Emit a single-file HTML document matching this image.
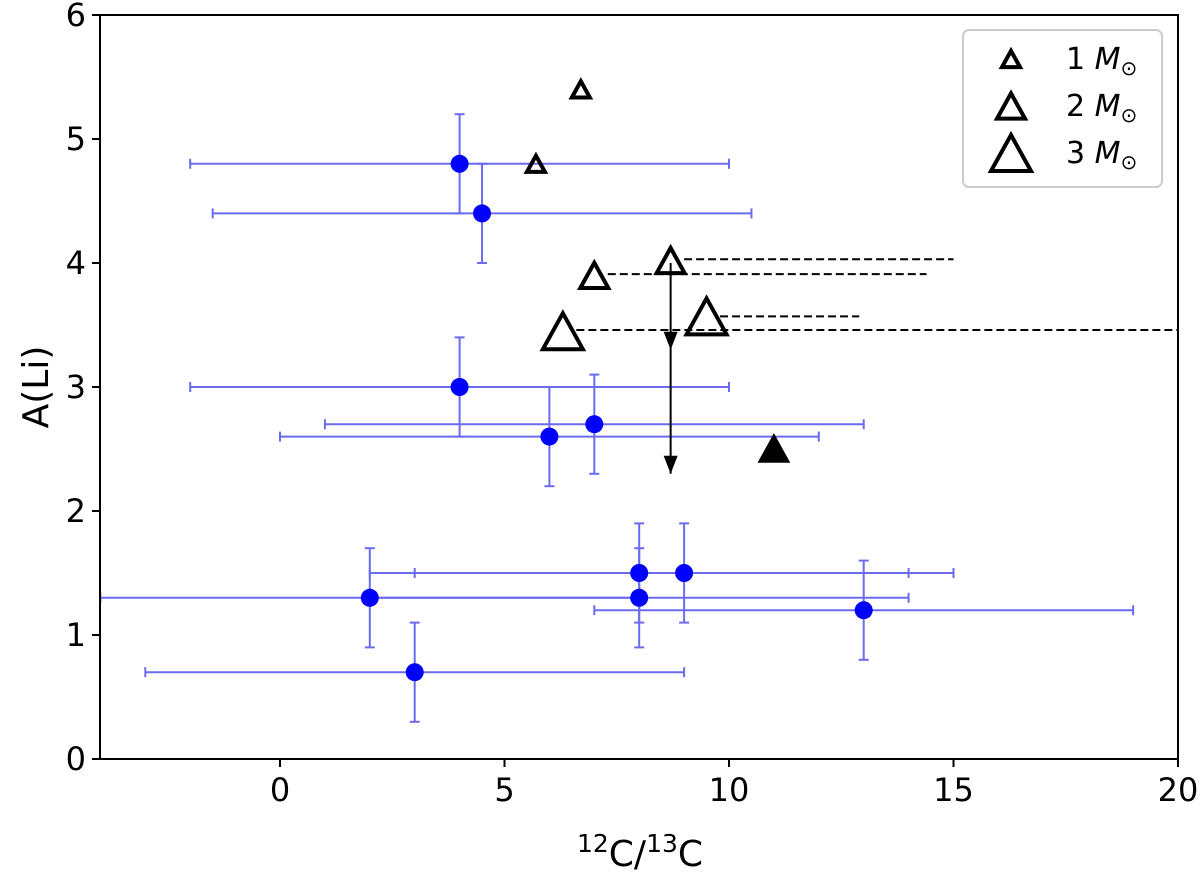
<!DOCTYPE html>
<html><head><meta charset="utf-8"><style>
body{margin:0;background:#fff}
svg text{font-family:"DejaVu Sans","Liberation Sans",sans-serif;fill:#000}
</style></head><body>
<svg id="chart" width="1200" height="874" viewBox="0 0 1200 874" xmlns="http://www.w3.org/2000/svg">
<g id="plot"></g>
</svg>
<script>
const obsX=[4,4.5,4,6,7,8,9,2,8,13,3];
const obsY=[4.8,4.4,3.0,2.6,2.7,1.5,1.5,1.3,1.3,1.2,0.7];
const obsXErr=[6,6,6,6,6,6,6,6,6,6,6];
const obsYErr=[0.4,0.4,0.4,0.4,0.4,0.4,0.4,0.4,0.4,0.4,0.4];
const modelX=[6.7,5.7,7,8.7,6.3,9.5];
const modelY=[5.4,4.8,3.9,4.02,3.45,3.57];
const modelMass=[1,1,2,2,3,3];
const dashY=[4.03,3.91,3.57,3.46];
const dashX0=[9.0,7.3,9.8,6.6];
const dashX1=[15,14.4,12.9,21];
const filledX=[11];const filledY=[2.5];
const arrowX=[8.7];const arrowTop=[4.0];const arrowMid=[3.3];const arrowBot=[2.3];
const xTicks=[0,5,10,15,20];const yTicks=[0,1,2,3,4,5,6];
const L=100,R=1178,T=15,B=759;
const X=v=>280+(v)*44.9;
const Y=v=>B-v*124;
const ns="http://www.w3.org/2000/svg";
const svg=document.getElementById('chart');
const g=document.getElementById('plot');
function mk(tag,a,parent){const e=document.createElementNS(ns,tag);for(const k in a)e.setAttribute(k,a[k]);(parent||g).appendChild(e);return e;}
const defs=mk('defs',{},svg);
const cp=mk('clipPath',{id:'cp'},defs);mk('rect',{x:L,y:T,width:R-L,height:B-T},cp);
const cg=mk('g',{'clip-path':'url(#cp)'});


obsX.forEach((x,i)=>{
 const eb=mk('g',{stroke:'#6b6bf0','stroke-width':2},cg);
 
 
 const y=Y(obsY[i]);
 const x0=X(x-obsXErr[i]),x1=X(x+obsXErr[i]);
 mk('line',{x1:x0,x2:x1,y1:y,y2:y},eb);
 mk('line',{x1:x0,x2:x0,y1:y-5,y2:y+5},eb);
 mk('line',{x1:x1,x2:x1,y1:y-5,y2:y+5},eb);
 const y0=Y(obsY[i]-obsYErr[i]),y1=Y(obsY[i]+obsYErr[i]);
 mk('line',{x1:X(x),x2:X(x),y1:y0,y2:y1},eb);
 mk('line',{x1:X(x)-5,x2:X(x)+5,y1:y0,y2:y0},eb);
 mk('line',{x1:X(x)-5,x2:X(x)+5,y1:y1,y2:y1},eb);
});
obsX.forEach((x,i)=>{
 const c=mk('circle',{cx:X(x),cy:Y(obsY[i]),r:9,fill:'#0000ff'},cg);
 
 
});
dashY.forEach((y,i)=>{
 const l=mk('line',{x1:X(dashX0[i]),x2:X(dashX1[i]),y1:Y(y),y2:Y(y),stroke:'#000','stroke-width':2,'stroke-dasharray':'8,4'},cg);
 
 
});
function tri(cx,cy,s,fill,parent){
 const h=s*0.9;
 return mk('polygon',{points:`${cx-s/2},${cy+h/2} ${cx+s/2},${cy+h/2} ${cx},${cy-h/2}`,fill:fill,stroke:'#000','stroke-width':4,'stroke-linejoin':'miter'},parent);
}
const sizes={1:18,2:28,3:40};
modelX.forEach((x,i)=>{
 const t=tri(X(x),Y(modelY[i]),sizes[modelMass[i]],'none',cg);
 
 
});
filledX.forEach((x,i)=>{
 const t=tri(X(x),Y(filledY[i]),26,'#000',cg);
 
 
});
arrowX.forEach((x,i)=>{
 const a=mk('g',{},cg);
 
 
 mk('line',{x1:X(x),x2:X(x),y1:Y(arrowTop[i]),y2:Y(arrowBot[i]),stroke:'#000','stroke-width':2},a);
 [arrowMid[i],arrowBot[i]].forEach(v=>{const yy=Y(v);mk('polygon',{points:`${X(x)-7},${yy-18} ${X(x)+7},${yy-18} ${X(x)},${yy}`,fill:'#000'},a);});
});
const fr=mk('rect',{x:L,y:T,width:R-L,height:B-T,fill:'none',stroke:'#000','stroke-width':2});


xTicks.forEach(v=>{
 mk('line',{x1:X(v),x2:X(v),y1:B,y2:B+8,stroke:'#000','stroke-width':2});
 const t=mk('text',{x:X(v),y:B+42,'text-anchor':'middle','font-size':32});t.textContent=v;
 
 
});
yTicks.forEach(v=>{
 mk('line',{x1:L-8,x2:L,y1:Y(v),y2:Y(v),stroke:'#000','stroke-width':2});
 const t=mk('text',{x:L-14,y:Y(v)+11,'text-anchor':'end','font-size':32});t.textContent=v;
 
 
});
const xt=mk('text',{x:640,y:866,'text-anchor':'middle','font-size':36});
xt.innerHTML='<tspan dy="-14" font-size="25">12</tspan><tspan dy="14">C/</tspan><tspan dy="-14" font-size="25">13</tspan><tspan dy="14">C</tspan>';


const yt=mk('text',{x:0,y:0,'text-anchor':'middle','font-size':36,transform:'translate(48,387) rotate(-90)'});yt.textContent='A(Li)';


const lg=mk('g',{});


mk('rect',{x:963,y:30,width:199,height:157,rx:6,fill:'#fff',stroke:'#ccc','stroke-width':2},lg);
[[1,18,63],[2,28,110],[3,40,157]].forEach(([m,s,y])=>{
 const e=mk('g',{},lg);
 
 
 tri(1011,y-4,s,'none',e);
 const t=mk('text',{x:1066,y:y+6,'font-size':30},e);
 t.innerHTML=m+' <tspan font-style="italic">M</tspan><tspan font-size="20" dy="6">⊙</tspan>';
});
</script>
</body></html>
